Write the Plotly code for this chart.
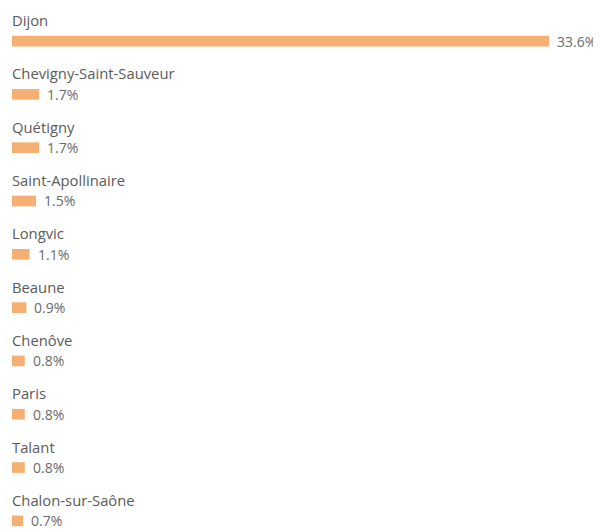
import plotly.graph_objects as go

cities = ["Dijon", "Chevigny-Saint-Sauveur", "Quétigny", "Saint-Apollinaire", "Longvic",
          "Beaune", "Chenôve", "Paris", "Talant", "Chalon-sur-Saône"]
shares = [33.6, 1.7, 1.7, 1.5, 1.1, 0.9, 0.8, 0.8, 0.8, 0.7]

BAR_COLOR = "#F6AF72"
FONT = "Open Sans"

fig = go.Figure(go.Bar(
    x=shares, y=cities, orientation="h",
    marker=dict(color=BAR_COLOR, line=dict(width=0)),
    width=0.2, hoverinfo="skip",
))

annotations = []
for c, v in zip(cities, shares):
    annotations.append(dict(x=0, y=c, xref="x", yref="y", text=c, showarrow=False,
                            xanchor="left", yanchor="middle", yshift=21, xshift=-2,
                            font=dict(family=FONT, size=14.8, color="#5a5a5a")))
    annotations.append(dict(x=v, y=c, xref="x", yref="y", text=f"{v:.1f}%", showarrow=False,
                            xanchor="left", yanchor="middle", xshift=6,
                            font=dict(family=FONT, size=14, color="#6a6a6a")))

fig.update_layout(
    width=593, height=523,
    margin=dict(l=4, r=0, t=0, b=0),
    paper_bgcolor="white", plot_bgcolor="white",
    showlegend=False,
    annotations=annotations,
    xaxis=dict(range=[0, 36.85], visible=False, fixedrange=True),
    yaxis=dict(range=[9.19, -0.62], visible=False, fixedrange=True),
)

fig.write_html("out.html")
